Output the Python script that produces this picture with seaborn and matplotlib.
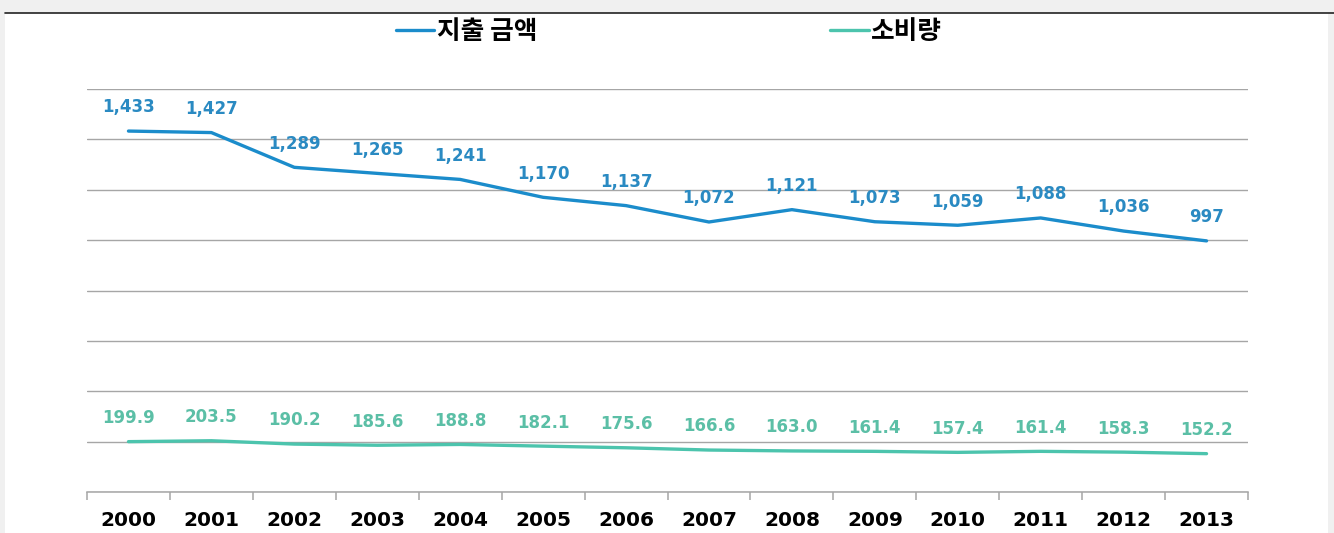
import numpy as np
import pandas as pd
import matplotlib.pyplot as plt
import seaborn as sns
from matplotlib.patches import Rectangle
from matplotlib.lines import Line2D

years = ["2000", "2001", "2002", "2003", "2004", "2005", "2006",
         "2007", "2008", "2009", "2010", "2011", "2012", "2013"]
spending = [1433, 1427, 1289, 1265, 1241, 1170, 1137,
            1072, 1121, 1073, 1059, 1088, 1036, 997]
consumption = [199.9, 203.5, 190.2, 185.6, 188.8, 182.1, 175.6,
               166.6, 163.0, 161.4, 157.4, 161.4, 158.3, 152.2]
series_names = ["지출 금액", "소비량"]

BLUE = "#1b8ccb"
TEAL = "#4cc4ad"
BLUE_TXT = "#2a8ac2"
TEAL_TXT = "#5bbfa6"

df = pd.DataFrame({
    "year": years * 2,
    "value": spending + consumption,
    "series": [series_names[0]] * len(years) + [series_names[1]] * len(years),
})
df["x"] = list(range(len(years))) * 2

sns.set_style("white")
plt.rcParams["font.family"] = ["DejaVu Sans", "Noto Sans CJK KR"]

fig = plt.figure(figsize=(13.34, 5.33), dpi=100)
fig.patch.set_facecolor("#f0f0f0")
fig.patches.append(Rectangle((5 / 1334, 0), 1323 / 1334, 520 / 533,
                             transform=fig.transFigure, facecolor="white",
                             edgecolor="none", zorder=-5))
fig.add_artist(Line2D([5 / 1334, 1], [520 / 533, 520 / 533],
                      transform=fig.transFigure, color="#222222", linewidth=1.2))

ax = fig.add_axes([87 / 1334, 41 / 533, 1161 / 1334, 403 / 533])
ax.set_facecolor("none")
ax.set_zorder(2)

sns.lineplot(data=df, x="x", y="value", hue="series",
             palette=[BLUE, TEAL], linewidth=2.4, ax=ax, legend=False)

ax.set_xlim(-0.5, len(years) - 0.5)
ax.set_ylim(0, 1600)
ax.set_yticks(np.arange(0, 1601, 200))
ax.yaxis.grid(True, color="#a6a6a6", linewidth=1.0)
ax.set_axisbelow(True)
ax.tick_params(axis="y", left=False, labelleft=False)
for side in ["top", "right", "left"]:
    ax.spines[side].set_visible(False)
ax.spines["bottom"].set_color("#a6a6a6")
ax.spines["bottom"].set_linewidth(1.1)

ax.set_xticks(range(len(years)))
ax.set_xticklabels(years, fontsize=14.5, fontweight="bold", color="black")
ax.tick_params(axis="x", which="major", bottom=True, length=0, pad=14)
ax.set_xticks(np.arange(-0.5, len(years)), minor=True)
ax.tick_params(axis="x", which="minor", bottom=True, length=6,
               color="#a6a6a6", width=1.1)
ax.set_xlabel("")
ax.set_ylabel("")

for i, v in enumerate(spending):
    ax.annotate(f"{v:,}", (i, v), xytext=(0, 17), textcoords="offset points",
                ha="center", va="center", fontsize=12, fontweight="bold",
                color=BLUE_TXT)
for i, v in enumerate(consumption):
    ax.annotate(f"{v:.1f}", (i, v), xytext=(0, 17), textcoords="offset points",
                ha="center", va="center", fontsize=12, fontweight="bold",
                color=TEAL_TXT)

handles = [Line2D([], [], color=BLUE, linewidth=2.4),
           Line2D([], [], color=TEAL, linewidth=2.4)]
leg = fig.legend(handles, series_names, loc="center", ncol=2,
                 bbox_to_anchor=(669 / 1334, 502 / 533), frameon=False,
                 handlelength=1.5, handletextpad=0.1, columnspacing=11.4,
                 labelcolor="black",
                 prop={"family": ["Noto Sans CJK KR"], "weight": "bold", "size": 18.5})

fig.savefig("out.png", dpi=100)
